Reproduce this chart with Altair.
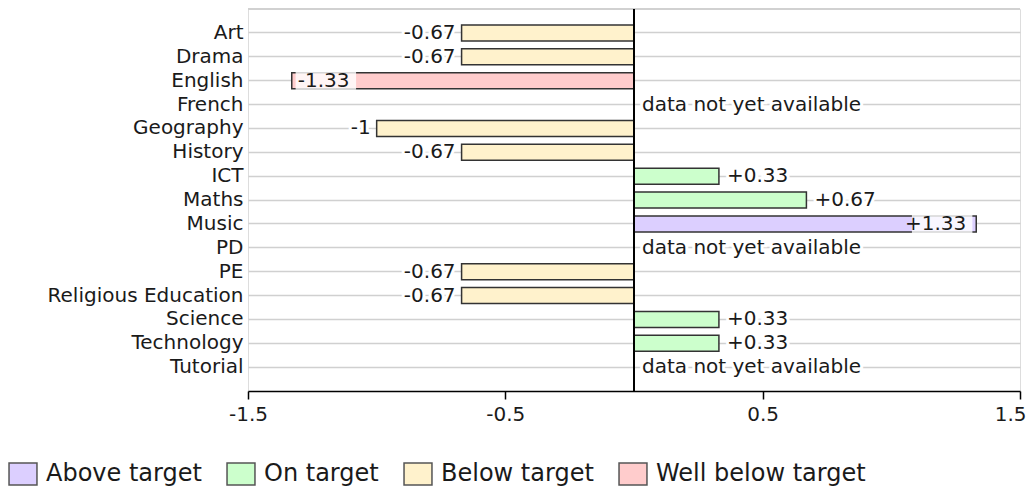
import altair as alt
import pandas as pd

subjects = ["Art", "Drama", "English", "French", "Geography", "History", "ICT", "Maths",
            "Music", "PD", "PE", "Religious Education", "Science", "Technology", "Tutorial"]
values = [-0.67, -0.67, -1.33, None, -1.0, -0.67, 0.33, 0.67, 1.33, None, -0.67, -0.67, 0.33, 0.33, None]
labels = ["-0.67", "-0.67", "-1.33", "", "-1", "-0.67", "+0.33", "+0.67", "+1.33", "",
          "-0.67", "-0.67", "+0.33", "+0.33", ""]
status = ["Below target", "Below target", "Well below target", None, "Below target", "Below target",
          "On target", "On target", "Above target", None, "Below target", "Below target",
          "On target", "On target", None]
inside = [False, False, True, False, False, False, False, False, True, False, False, False, False, False, False]
x_ticks = [-1.5, -0.5, 0.5, 1.5]

status_order = ["Above target", "On target", "Below target", "Well below target"]
status_colors = ["#dccfff", "#ccffcc", "#fff2cc", "#ffcccc"]

rows = []
for s, v, l, st, ins in zip(subjects, values, labels, status, inside):
    r = {"subject": s, "value": v, "label": l, "status": st, "inside": ins,
         "nodata": v is None, "note": "data not yet available" if v is None else ""}
    if v is not None and ins:
        sign = 1 if v > 0 else -1
        r["box_start"] = v - sign * 0.015
        r["box_end"] = v - sign * 0.25
    rows.append(r)
df = pd.DataFrame(rows)

FONT = "DejaVu Sans"
FS = 20
TXT = "#1a1a1a"
GRID = "#d0d0d0"

y_enc = alt.Y("subject:N", sort=subjects, title=None,
              scale=alt.Scale(paddingInner=0, paddingOuter=0.5),
              axis=alt.Axis(grid=True, gridColor=GRID, gridWidth=1.5, bandPosition=0.5,
                            ticks=False, domain=False, labelFont=FONT, labelFontSize=FS,
                            labelColor=TXT, labelPadding=5, minExtent=240, maxExtent=240,
                            labelLimit=400))
x_enc = alt.X("value:Q", title=None,
              scale=alt.Scale(domain=[-1.5, 1.5], nice=False, zero=False),
              axis=alt.Axis(values=x_ticks, grid=False, domainColor="black",
                            domainWidth=1.5, tickColor="black", tickWidth=1.5, tickSize=8,
                            labelFont=FONT, labelFontSize=FS, labelColor=TXT, labelPadding=5,
                            labelExpr="'' + datum.value", labelFlush=False,
                            labelAlign=alt.condition("datum.value == 1.5", alt.value("right"), alt.value("center")),
                            labelOffset=alt.condition("datum.value == 1.5", alt.value(6), alt.value(0))))

base = alt.Chart(df)

top_rule = alt.Chart(df).mark_rule(color=GRID, strokeWidth=1.5).encode(y=alt.value(0))

bars = base.transform_filter("datum.value != null").mark_bar(
    size=16, stroke="#333333", strokeWidth=1.5).encode(
    y=y_enc, x=x_enc,
    color=alt.Color("status:N", title=None,
                    scale=alt.Scale(domain=status_order, range=status_colors),
                    legend=alt.Legend(orient="none", legendX=-237, legendY=453,
                                      direction="horizontal",
                                      symbolType="M-1.27,-1H1.27V1H-1.27Z",
                                      symbolSize=484, symbolStrokeColor="#555555",
                                      symbolStrokeWidth=1.5, symbolOpacity=1,
                                      labelFont=FONT, labelFontSize=24, labelColor=TXT,
                                      labelOffset=11, columnPadding=22, labelLimit=400)))

boxes = base.transform_filter("datum.inside").mark_bar(
    size=18, color="white", opacity=0.8).encode(
    y=alt.Y("subject:N", sort=subjects), x="box_start:Q", x2="box_end:Q")

zero_rule = alt.Chart(df).mark_rule(color="black", strokeWidth=1.5).encode(x=alt.datum(0))

def txt(filter_expr, align, dx, field="label", xfield="value:Q", halo=True):
    layers = []
    if halo:
        layers.append(base.transform_filter(filter_expr).mark_text(
            align=align, dx=dx, font=FONT, fontSize=FS, stroke="white", strokeWidth=6,
            color="white", baseline="middle").encode(
            y=alt.Y("subject:N", sort=subjects), x=xfield, text=f"{field}:N"))
    layers.append(base.transform_filter(filter_expr).mark_text(
        align=align, dx=dx, font=FONT, fontSize=FS, color=TXT, baseline="middle").encode(
        y=alt.Y("subject:N", sort=subjects), x=xfield, text=f"{field}:N"))
    return layers

neg_out = txt("datum.value != null && datum.value < 0 && !datum.inside", "right", -6)
pos_out = txt("datum.value != null && datum.value > 0 && !datum.inside", "left", 8)
neg_in = txt("datum.value != null && datum.value < 0 && datum.inside", "left", 6, halo=False)
pos_in = txt("datum.value != null && datum.value > 0 && datum.inside", "right", -10, halo=False)

note_layers = [
    base.transform_filter("datum.nodata").transform_calculate(zero="0").mark_text(
        align="left", dx=8, font=FONT, fontSize=FS, stroke="white", strokeWidth=6,
        color="white", baseline="middle").encode(
        y=alt.Y("subject:N", sort=subjects), x="zero:Q", text="note:N"),
    base.transform_filter("datum.nodata").transform_calculate(zero="0").mark_text(
        align="left", dx=8, font=FONT, fontSize=FS, color=TXT, baseline="middle").encode(
        y=alt.Y("subject:N", sort=subjects), x="zero:Q", text="note:N"),
]

chart = alt.layer(top_rule, bars, boxes, *neg_out, *pos_out, *neg_in, *pos_in, *note_layers,
                  zero_rule).properties(
    width=772, height=382, padding=0
).configure_view(stroke=None).configure(background="white")

chart.save("out.html", embed_options={"renderer": "svg", "actions": False})
